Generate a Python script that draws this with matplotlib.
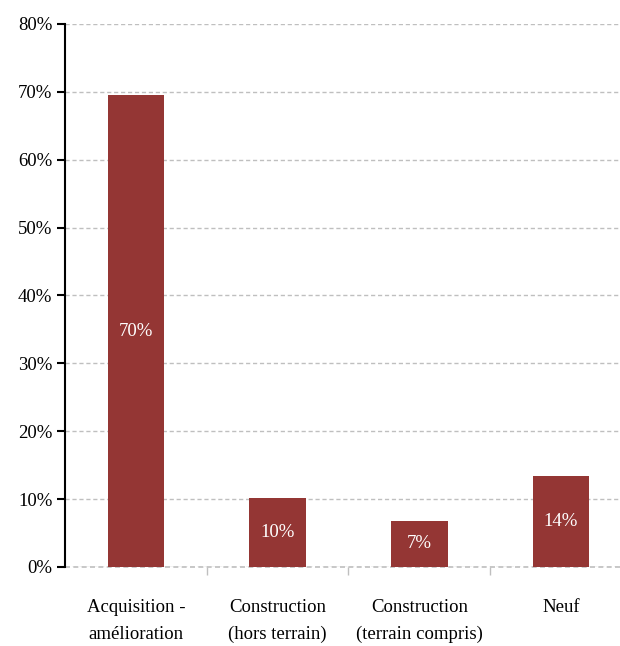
import matplotlib.pyplot as plt
import numpy as np

categories = ["Acquisition -\namélioration", "Construction\n(hors terrain)",
              "Construction\n(terrain compris)", "Neuf"]
values = [69.5, 10.1, 6.8, 13.4]
value_labels = ["70%", "10%", "7%", "14%"]
y_ticks = [0, 10, 20, 30, 40, 50, 60, 70, 80]

plt.rcParams['font.family'] = ['Liberation Serif', 'DejaVu Serif']

fig = plt.figure(figsize=(6.2, 6.46), dpi=100)
ax = fig.add_axes([0.1048, 0.1223, 0.9145, 0.8406])

xpos = np.arange(len(categories))
bars = ax.bar(xpos, values, width=0.4, color="#943634", zorder=3)

for b, v, lab in zip(bars, values, value_labels):
    ax.text(b.get_x() + b.get_width() / 2, v / 2, lab, ha="center", va="center",
            color="white", fontsize=13.5, zorder=4)

ax.set_xlim(-0.5, len(categories) - 0.5)
ax.set_ylim(0, 80)
ax.set_yticks(y_ticks)
ax.set_yticklabels([f"{t}%" for t in y_ticks], fontsize=13.5)
ax.set_xticks(xpos)
ax.set_xticklabels(categories, fontsize=13.5, linespacing=1.75)
ax.tick_params(axis="x", length=0, pad=23)
ax.set_xticks(np.arange(0.5, len(categories) - 0.5, 1), minor=True)
ax.tick_params(axis="x", which="minor", length=6, color="#BFBFBF", width=1)
ax.tick_params(axis="y", length=6, width=1.5, color="black", pad=3)

ax.grid(axis="y", color="#BFBFBF", linestyle=(0, (3, 2)), linewidth=1, zorder=0)
ax.axhline(0, color="#BFBFBF", linestyle=(0, (3, 2)), linewidth=1.2, zorder=2, clip_on=False)
ax.set_axisbelow(True)
for s in ["top", "right", "bottom"]:
    ax.spines[s].set_visible(False)
ax.spines["left"].set_linewidth(1.5)
ax.spines["left"].set_zorder(5)

fig.savefig("out.png", dpi=100)
